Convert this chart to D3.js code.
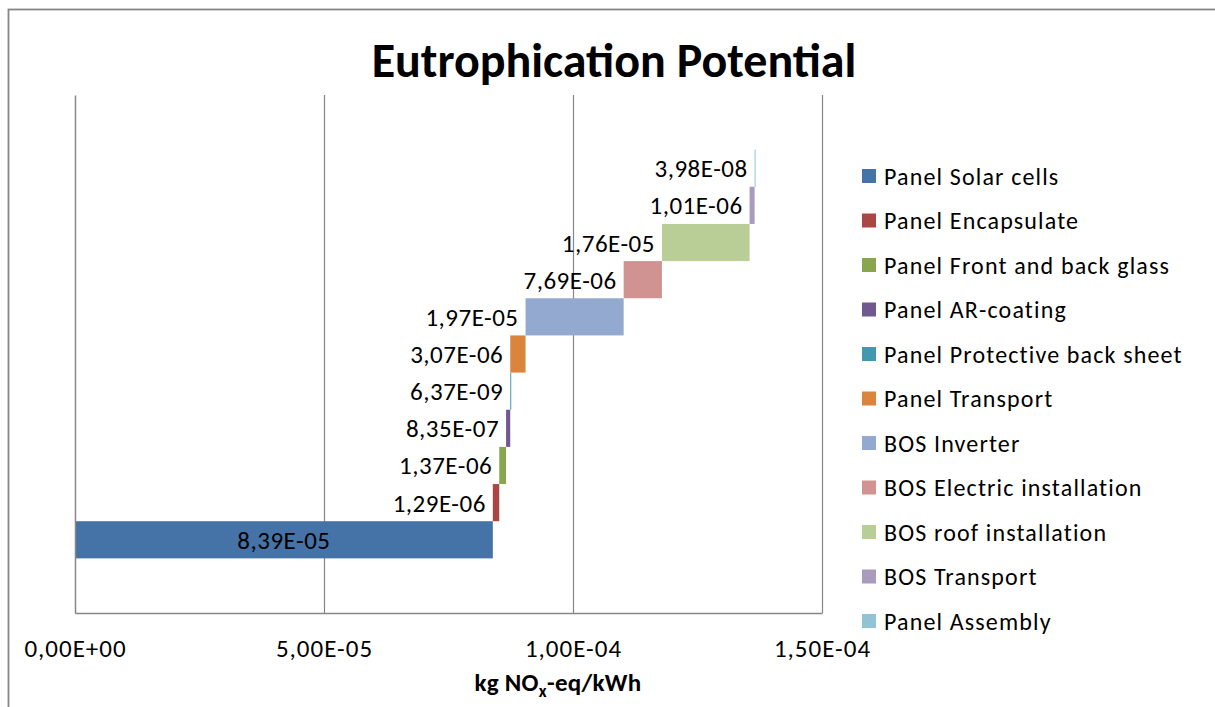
<!DOCTYPE html>
<html>
<head>
<meta charset="utf-8">
<script src="https://cdn.jsdelivr.net/npm/d3@7"></script>
<style>
  html, body { margin: 0; padding: 0; background: #fff; }
  svg { display: block; }
  text { font-family: Carlito, Calibri, Lato, "Open Sans", sans-serif; fill: #000; }
</style>
</head>
<body>
<svg id="chart" width="1215" height="707"></svg>
<script>
// Eutrophication contributions per life-cycle step (kg NOx-eq/kWh)
const categories = [
  "Panel Solar cells",
  "Panel Encapsulate",
  "Panel Front and back glass",
  "Panel AR-coating",
  "Panel Protective back sheet",
  "Panel Transport",
  "BOS Inverter",
  "BOS Electric installation",
  "BOS roof installation",
  "BOS Transport",
  "Panel Assembly"
];
const values = [
  8.39e-5, 1.29e-6, 1.37e-6, 8.35e-7, 6.37e-9, 3.07e-6,
  1.97e-5, 7.69e-6, 1.76e-5, 1.01e-6, 3.98e-8
];
const colors = [
  "#4572A7", "#AA4643", "#89A54E", "#71588F", "#4198AF", "#DB843D",
  "#93A9CF", "#D19392", "#B9CD96", "#A99BBD", "#92C3D4"
];
const xTicks = [0, 5e-5, 1e-4, 1.5e-4];
const titleText = "Eutrophication Potential";

// Excel-style scientific notation with a decimal comma: 8,39E-05
function sci(v) {
  if (v === 0) return "0,00E+00";
  let e = Math.floor(Math.log10(Math.abs(v)));
  let m = v / Math.pow(10, e);
  if (Math.round(m * 100) / 100 >= 10) { m /= 10; e += 1; }
  const sign = e < 0 ? "-" : "+";
  const ee = String(Math.abs(e)).padStart(2, "0");
  return m.toFixed(2).replace(".", ",") + "E" + sign + ee;
}

// waterfall: each step starts where the previous one ended
const steps = [];
let acc = 0;
values.forEach((v, i) => {
  steps.push({ name: categories[i], value: v, start: acc, end: acc + v, color: colors[i] });
  acc += v;
});

const svg = d3.select("#chart");

// outer chart border
svg.append("rect")
  .attr("x", 8.5).attr("y", 9.5)
  .attr("width", 1220).attr("height", 720)
  .attr("fill", "none").attr("stroke", "#868686").attr("stroke-width", 1.8);

const plot = { left: 75, right: 822, top: 95, bottom: 613 };

const x = d3.scaleLinear()
  .domain([xTicks[0], xTicks[xTicks.length - 1]])
  .range([plot.left, plot.right]);

const y = d3.scaleBand()
  .domain(categories)
  .range([plot.bottom, plot.top])
  .paddingInner(0)
  .paddingOuter(1.47);

// vertical gridlines
svg.append("g")
  .selectAll("line")
  .data(xTicks.slice(1))
  .join("line")
  .attr("x1", d => Math.round(x(d)) + 0.5).attr("x2", d => Math.round(x(d)) + 0.5)
  .attr("y1", plot.top).attr("y2", plot.bottom)
  .attr("stroke", "#868686").attr("stroke-width", 1.2);

// bars
svg.append("g")
  .selectAll("rect")
  .data(steps)
  .join("rect")
  .attr("x", d => x(d.start))
  .attr("y", d => y(d.name))
  .attr("width", d => Math.max(1, x(d.end) - x(d.start)))
  .attr("height", y.bandwidth())
  .attr("fill", d => d.color);

// axes
const xAxis = d3.axisBottom(x).tickValues(xTicks).tickSize(0).tickFormat(sci);
const gx = svg.append("g")
  .attr("transform", `translate(0,${plot.bottom})`)
  .call(xAxis);
gx.select(".domain").attr("stroke", "#868686").attr("stroke-width", 1.5);
gx.selectAll(".tick text")
  .attr("dy", 0).attr("y", 44)
  .style("font-size", "25px")
  .style("letter-spacing", "1px")
  .style("font-family", "Carlito, Calibri, Lato, sans-serif");

const yAxis = d3.axisLeft(y).tickSize(0).tickFormat("");
const gy = svg.append("g")
  .attr("transform", `translate(${plot.left},0)`)
  .call(yAxis);
gy.select(".domain").attr("stroke", "#868686").attr("stroke-width", 1.5);

// value labels
svg.append("g")
  .selectAll("text")
  .data(steps)
  .join("text")
  .attr("x", (d, i) => i === 0 ? (x(d.start) + x(d.end)) / 2 : x(d.start) - 7)
  .attr("y", d => y(d.name) + y.bandwidth() / 2)
  .attr("dy", "0.36em")
  .attr("text-anchor", (d, i) => i === 0 ? "middle" : "end")
  .style("font-size", "25px")
  .style("letter-spacing", "0.5px")
  .text(d => sci(d.value));

// title
svg.append("text")
  .attr("x", 614).attr("y", 77)
  .attr("text-anchor", "middle")
  .style("font-size", "48px").style("font-weight", "bold")
  .text(titleText);

// axis title with subscript
const at = svg.append("text")
  .attr("x", 558).attr("y", 691)
  .attr("text-anchor", "middle")
  .style("font-size", "25px").style("font-weight", "bold")
  .style("letter-spacing", "0.3px");
at.append("tspan").text("kg NO");
at.append("tspan").attr("dy", 6).style("font-size", "17px").text("x");
at.append("tspan").attr("dy", -6).text("-eq/kWh");

// legend
const lg = svg.append("g").attr("transform", "translate(862,176)");
const rows = lg.selectAll("g")
  .data(steps)
  .join("g")
  .attr("transform", (d, i) => `translate(0,${i * 44.5})`);
rows.append("rect")
  .attr("x", 0).attr("y", -7)
  .attr("width", 14).attr("height", 14)
  .attr("fill", d => d.color);
rows.append("text")
  .attr("x", 22).attr("y", 0).attr("dy", "0.36em")
  .style("font-size", "24px")
  .style("letter-spacing", "1.15px")
  .text(d => d.name);
</script>
</body>
</html>
